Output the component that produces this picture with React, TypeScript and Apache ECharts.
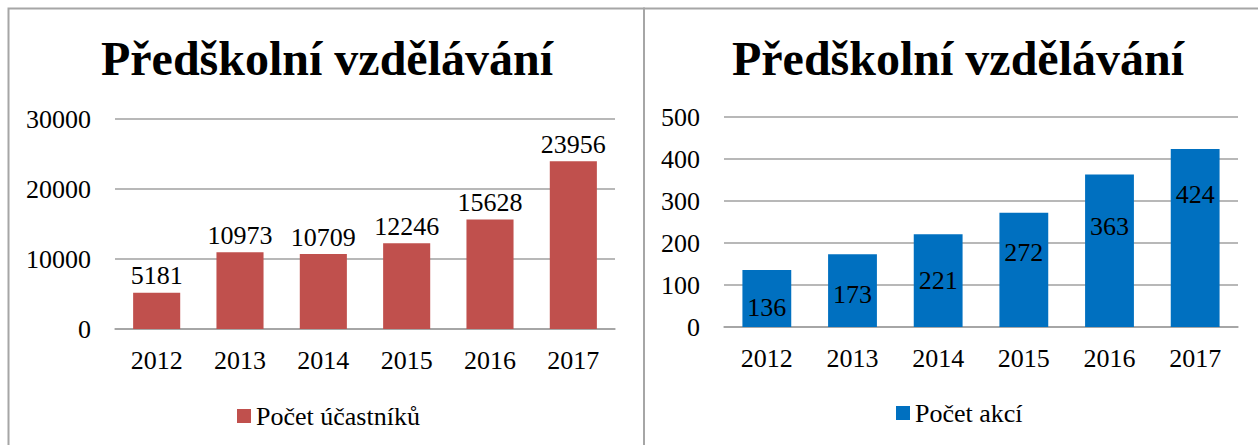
import React, { useEffect, useRef } from "react";
import * as echarts from "echarts";

const years = ["2012", "2013", "2014", "2015", "2016", "2017"];
const participants = [5181, 10973, 10709, 12246, 15628, 23956];
const events = [136, 173, 221, 272, 363, 424];
const titleText = "Předškolní vzdělávání";
const leftSeriesName = "Počet účastníků";
const rightSeriesName = "Počet akcí";

// label vertical nudges (styling) for the right chart's inside labels
const rightLabelShift = [9, 4, 0, -17, -24, -43];

const FONT = "Liberation Serif";
const GRID_COLOR = "#a0a0a0";

export default function App() {
  const ref = useRef<HTMLDivElement>(null);
  useEffect(() => {
    if (!ref.current) return;
    const chart = echarts.init(ref.current, undefined, { renderer: "svg" });
    const axisLabel = { fontFamily: FONT, fontSize: 26, color: "#000" };
    const yAxisCommon = {
      type: "value" as const,
      axisLine: { show: false },
      axisTick: { show: false },
      splitLine: { lineStyle: { color: GRID_COLOR, width: 1.5 } },
      axisLabel: { ...axisLabel, margin: 24, formatter: (v: number) => String(v) },
    };
    const xAxisCommon = {
      type: "category" as const,
      data: years,
      axisLine: { lineStyle: { color: GRID_COLOR, width: 1.5 } },
      axisTick: { show: false },
      axisLabel: { ...axisLabel, margin: 18 },
    };
    const titleStyle = { fontFamily: FONT, fontSize: 48, fontWeight: "bold" as const, color: "#000" };
    const legendText = { fontFamily: FONT, fontSize: 26, color: "#000" };
    chart.setOption({
      animation: false,
      backgroundColor: "#fff",
      textStyle: { fontFamily: FONT },
      title: [
        { text: titleText, left: 322, top: 29, textAlign: "center", textStyle: titleStyle },
        { text: titleText, left: 953, top: 29, textAlign: "center", textStyle: titleStyle },
      ],
      legend: [
        {
          data: [leftSeriesName],
          left: 232,
          top: 398,
          icon: "rect",
          itemWidth: 14,
          itemHeight: 14,
          textStyle: legendText,
        },
        {
          data: [rightSeriesName],
          left: 891,
          top: 395,
          icon: "rect",
          itemWidth: 14,
          itemHeight: 14,
          textStyle: legendText,
        },
      ],
      grid: [
        { left: 115, top: 119, width: 500, height: 210 },
        { left: 724, top: 117, width: 514, height: 210 },
      ],
      xAxis: [
        { ...xAxisCommon, gridIndex: 0 },
        { ...xAxisCommon, gridIndex: 1 },
      ],
      yAxis: [
        { ...yAxisCommon, gridIndex: 0, min: 0, max: 30000, interval: 10000 },
        { ...yAxisCommon, gridIndex: 1, min: 0, max: 500, interval: 100 },
      ],
      series: [
        {
          name: leftSeriesName,
          type: "bar",
          xAxisIndex: 0,
          yAxisIndex: 0,
          data: participants,
          barCategoryGap: "43.5%",
          itemStyle: { color: "#C0504D" },
          label: { show: true, position: "top", distance: 4, ...axisLabel },
        },
        {
          name: rightSeriesName,
          type: "bar",
          xAxisIndex: 1,
          yAxisIndex: 1,
          data: events.map((v, i) => ({
            value: v,
            label: { offset: [0, rightLabelShift[i]] },
          })),
          barCategoryGap: "43%",
          itemStyle: { color: "#0070C0" },
          label: { show: true, position: "inside", ...axisLabel },
        },
      ],
      graphic: [
        {
          type: "rect",
          shape: { x: 8.5, y: 8.5, width: 635.5, height: 460 },
          style: { fill: "none", stroke: "#a6a6a6", lineWidth: 2 },
          silent: true,
        },
        {
          type: "rect",
          shape: { x: 644, y: 8.5, width: 640, height: 460 },
          style: { fill: "none", stroke: "#a6a6a6", lineWidth: 2 },
          silent: true,
        },
      ],
    });
    return () => chart.dispose();
  }, []);
  return (
    <div
      ref={ref}
      style={{ position: "absolute", left: 0, top: 0, width: 1258, height: 445 }}
    />
  );
}
